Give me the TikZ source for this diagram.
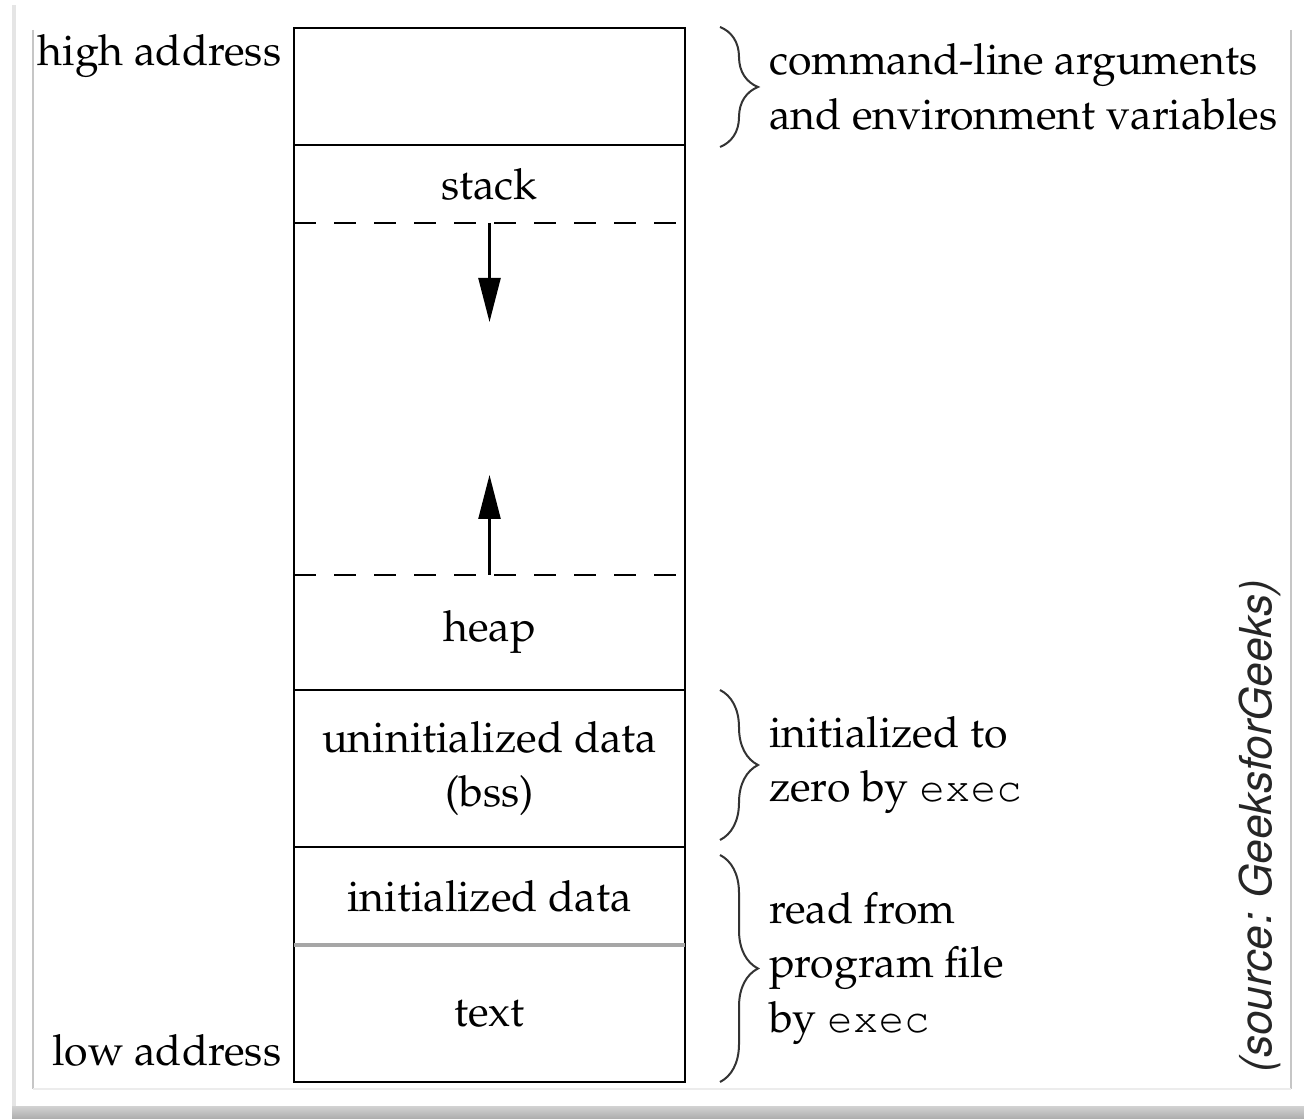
\documentclass[tikz,border=0pt]{standalone}
\usepackage[T1]{fontenc}
\usepackage{mathpazo}
\usepackage{helvet}
\usepackage{courier}
\usepackage{tikz}
\usetikzlibrary{arrows.meta,positioning,decorations.pathreplacing}
\tikzset{
  memseg/.style={minimum width=97.75pt, inner sep=0pt, outer sep=0pt, align=center, font=\fontsize{10.7}{13.6}\selectfont},
  memaddr/.style={inner sep=0pt, font=\fontsize{10.7}{13.6}\selectfont},
  memnote/.style={inner sep=0pt, align=left, text=black, font=\fontsize{10.7}{13.6}\selectfont},
  memline/.style={line width=0.7pt},
  memdash/.style={line width=0.7pt, dash pattern=on 5.5pt off 4.5pt},
  memarrow/.style={-{Triangle[length=11pt,width=5.5pt]}, line width=0.6pt},
  membrace/.style={decorate, decoration={brace, amplitude=9.5pt}, line width=0.5pt, black!80},
  frameline/.style={gray!45, line width=0.35pt}
}
\newcommand{\prog}[1]{{\ttfamily #1}}

\begin{document}
\begin{tikzpicture}
\useasboundingbox (0,0) rectangle (326pt,-279.75pt);
% screenshot frame
\shade[top color=gray!35, bottom color=gray!65] (3pt,-276.5pt) rectangle (326pt,-279.75pt);
\draw[gray!20, line width=1pt] (3.5pt,-1.25pt) -- (3.5pt,-276.5pt);
\draw[frameline] (8.25pt,-7.5pt) -- (8.25pt,-272.25pt);
\draw[frameline] (322.75pt,-7.5pt) -- (322.75pt,-272.25pt);
\draw[gray!15, line width=0.35pt] (8.25pt,-272.25pt) -- (322.75pt,-272.25pt);
% segments, top to bottom
\node[memseg, minimum height=29.25pt, anchor=north west] (args) at (73.5pt,-7pt) {};
\node[memseg, minimum height=19.5pt, below=0pt of args] (stack) {stack};
\node[memseg, minimum height=88pt, below=0pt of stack] (free) {};
\node[memseg, minimum height=28.75pt, below=0pt of free] (heap) {heap};
\node[memseg, minimum height=39.25pt, below=0pt of heap] (bss) {uninitialized data\\(bss)};
\node[memseg, minimum height=24.5pt, below=0pt of bss] (data) {initialized data};
\node[memseg, minimum height=34.25pt, below=0pt of data] (text) {text};
% outline and separators
\draw[memline] (args.north west) rectangle (text.south east);
\draw[memline] (args.south west) -- (args.south east);
\draw[memdash] (stack.south west) -- (stack.south east);
\draw[memdash] (heap.north west) -- (heap.north east);
\draw[memline] (heap.south west) -- (heap.south east);
\draw[memline] (bss.south west) -- (bss.south east);
\draw[gray!70, line width=0.9pt] (data.south west) -- (data.south east);
% growth arrows
\coordinate[below=24.75pt of free.north] (stackend);
\coordinate[above=25pt of free.south] (heapend);
\draw[memarrow] (free.north) -- (stackend);
\draw[memarrow] (free.south) -- (heapend);
% addresses
\node[memaddr, anchor=north east] (high) at ([xshift=-3pt,yshift=-1.5pt]args.north west) {high address};
\node[memaddr, anchor=base east] (low) at ([xshift=-3pt,yshift=4.25pt]text.south west) {low address};
% braces and notes
\draw[membrace] ([xshift=8.75pt,yshift=0.25pt]args.north east) -- node[memnote, right=12pt] (argsnote) {command-line arguments\\and environment variables} ([xshift=8.75pt,yshift=-0.5pt]args.south east);
\draw[membrace] ([xshift=8.75pt]bss.north east) -- node[memnote, right=12pt] (bssnote) {initialized to\\zero by \prog{exec}} ([xshift=8.75pt,yshift=1.75pt]bss.south east);
\draw[membrace] ([xshift=8.75pt,yshift=-2pt]data.north east) -- node[memnote, right=12pt] (textnote) {read from\\program file\\by \prog{exec}} ([xshift=8.75pt]text.south east);
% source
\node[font=\fontsize{11}{13}\selectfont\sffamily\itshape, rotate=90, inner sep=0pt, text=black!85] (source) at (315pt,-207pt) {(source: GeeksforGeeks)};
\end{tikzpicture}
\end{document}
